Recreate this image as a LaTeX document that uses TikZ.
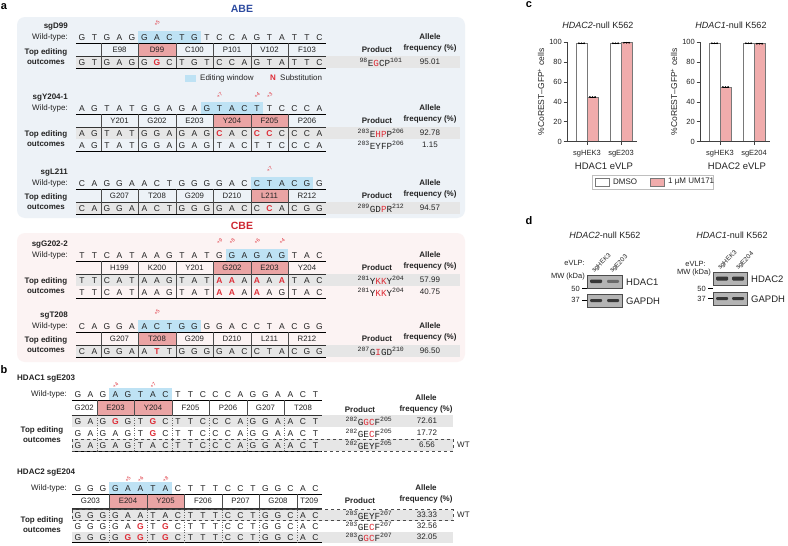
\documentclass[tikz,border=0pt]{standalone}
\usepackage{fontspec}
\setmainfont{Liberation Sans}
\newfontfamily\prodfont{Liberation Mono}
\definecolor{hlblue}{RGB}{190,226,244}
\definecolor{aapink}{RGB}{234,164,164}
\definecolor{edred}{RGB}{222,45,55}
\definecolor{rowgray}{RGB}{230,230,230}
\definecolor{abebg}{RGB}{237,242,247}
\definecolor{cbebg}{RGB}{252,243,243}
\definecolor{abeblue}{RGB}{45,75,160}
\definecolor{cbered}{RGB}{205,40,50}
\definecolor{barpink}{RGB}{240,172,172}
\definecolor{barline}{RGB}{120,120,120}
\definecolor{blotbg}{RGB}{180,180,180}
\definecolor{bandc}{RGB}{55,55,55}
\definecolor{txtc}{RGB}{35,35,35}
\newcommand\Rb[1]{\textcolor{edred}{\textbf{#1}}}
\newcommand\Rn[1]{\textcolor{edred}{#1}}
% sequence letters: x0, y, list
\newcommand\sqrow[3]{\foreach \sq [count=\ii from 0] in {#3}{\node[sqtx] at ({#1+\ii*12.5},{#2}) {\sq};}}
% editing window: x0, y, i1, i2
\newcommand\hlwin[4]{\fill[hlblue] ({#1+(#3-0.5)*12.5},{#2-6.5}) rectangle ({#1+(#4+0.5)*12.5},{#2+6});}
% position marker: x0, y, i, text
\newcommand\emark[4]{\node[emk] at ({#1+#3*12.5},{#2}) {#4};}
% amino-acid label: x0, y, k1, k2, text
\newcommand\aalab[5]{\node[aatx] at ({#1+((#3+#4)/2-0.5)*12.5},{#2}) {#5};}
% amino-acid pink cell: x0, ytop, ybot, k1, k2
\newcommand\aapinkc[5]{\fill[aapink] ({#1+(#4-0.5)*12.5},{#2}) rectangle ({#1+(#5-0.5)*12.5},{#3});}
% frame panel a: y0, nrows, separators
\newcommand\frameA[3]{%
 \draw[tabln] (75.75,{#1+6}) -- (325.75,{#1+6});
 \draw[thinln] (75.75,{#1+19}) -- (325.75,{#1+19});
 \draw[tabln] (75.75,{#1+19+12*#2}) -- (325.75,{#1+19+12*#2});
 \foreach \kk in {#3}{\draw[sepln] ({82+(\kk-0.5)*12.5},{#1+6}) -- ({82+(\kk-0.5)*12.5},{#1+19+12*#2});}%
}
% frame panel b: ytop, yaabot, yrowtop, ybot, separators
\newcommand\frameB[5]{%
 \draw[tabln] (71.75,{#1}) -- (321.75,{#1});
 \draw[thinln] (71.75,{#2}) -- (321.75,{#2});
 \draw[thinln] (71.75,{#3}) -- (321.75,{#3});
 \draw[tabln] (71.75,{#4}) -- (321.75,{#4});
 \foreach \kk in {#5}{\draw[sepln] ({78+(\kk-0.5)*12.5},{#1}) -- ({78+(\kk-0.5)*12.5},{#2});
   \draw[dotln] ({78+(\kk-0.5)*12.5},{#3}) -- ({78+(\kk-0.5)*12.5},{#4});}%
}
\newcommand\bandA[1]{\fill[rowgray] (75.75,{#1}) rectangle (460,{#1+12});}
\newcommand\bandB[2]{\fill[rowgray] (71.75,{#1}) rectangle (453,{#2});}
\newcommand\cval[1]{141.7-#1*0.994}
\newcommand\barchart[8]{%
 \begin{scope}[xshift=#1pt]
 \node[ttl] at (598,25) {#2};
 \node[ylbl, rotate=90] at (541,92) {\%CoREST–GFP\textsuperscript{+} cells};
 \draw[barln, fill=white] (576,141.7) rectangle (587,{\cval{#3}});
 \draw[barln, fill=barpink] (587,141.7) rectangle (598,{\cval{#4}});
 \draw[barln, fill=white] (610,141.7) rectangle (621,{\cval{#5}});
 \draw[barln, fill=barpink] (621,141.7) rectangle (632,{\cval{#6}});
 \foreach \xx/\vv in {581.5/#3,592.5/#4,615.5/#5,626.5/#6}{%
   \draw[line width=0.7pt] ({\xx-3},{\cval{\vv}}) -- ({\xx+3},{\cval{\vv}});
   \foreach \dd in {-2.6,0,2.6}{\fill ({\xx+\dd},{\cval{\vv}}) circle (0.95);}}
 \draw[axln] (567,42.3) -- (567,141.7) -- (637,141.7);
 \foreach \v in {0,20,40,60,80,100}{\draw[axln] (563.5,{\cval{\v}}) -- (567,{\cval{\v}});
   \node[tlbl, anchor=east] at (562,{\cval{\v}}) {\v};}
 \draw[axln] (587,141.7) -- (587,145);
 \draw[axln] (621,141.7) -- (621,145);
 \node[tlbl] at (587,153.5) {sgHEK3};
 \node[tlbl] at (621,153.5) {#7};
 \node[glbl] at (604,166) {#8};
 \end{scope}}
\begin{document}
\begin{tikzpicture}[x=1pt,y=-1pt,
  sqtx/.style={font=\fontsize{8.5}{9}\selectfont, text=txtc, inner sep=0pt, text height=6.1pt, text depth=0pt},
  aatx/.style={font=\fontsize{7.8}{9}\selectfont, text=txtc, inner sep=0pt, text height=5.6pt, text depth=0pt},
  lbl/.style={font=\fontsize{8}{10}\selectfont, text=txtc, inner sep=0pt},
  nmlbl/.style={font=\fontsize{8}{10}\selectfont\bfseries, text=txtc, inner sep=0pt, anchor=east},
  nmlblw/.style={font=\fontsize{8}{10}\selectfont\bfseries, text=txtc, inner sep=0pt, anchor=west},
  wtlbl/.style={font=\fontsize{8}{10}\selectfont, text=txtc, inner sep=0pt, anchor=east},
  toplbl/.style={font=\fontsize{8}{10}\selectfont\bfseries, text=txtc, inner sep=0pt, align=center},
  hdr/.style={font=\fontsize{8}{11}\selectfont\bfseries, text=txtc, inner sep=0pt, align=center},
  prod/.style={font=\fontsize{9.3}{10}\selectfont\prodfont, text=txtc, inner sep=0pt},
  emk/.style={font=\fontsize{5}{6}\selectfont, text=edred, inner sep=0pt, rotate=45},
  plbl/.style={font=\fontsize{11}{12}\selectfont\bfseries, inner sep=0pt},
  tabln/.style={line width=0.7pt, draw=black},
  thinln/.style={line width=0.45pt, draw=black!80},
  sepln/.style={line width=0.45pt, draw=black!70},
  dotln/.style={line width=0.5pt, draw=black!60, dotted},
  axln/.style={line width=0.8pt, draw=black!75},
  barln/.style={line width=0.9pt, draw=barline},
  tlbl/.style={font=\fontsize{7.5}{9}\selectfont, text=txtc, inner sep=0pt},
  ttl/.style={font=\fontsize{9}{10}\selectfont, text=txtc, inner sep=0pt},
  glbl/.style={font=\fontsize{9.5}{10}\selectfont, text=txtc, inner sep=0pt},
  ylbl/.style={font=\fontsize{8.5}{9}\selectfont, text=txtc, inner sep=0pt},
  blotlbl/.style={font=\fontsize{9.5}{10}\selectfont, text=txtc, inner sep=0pt, anchor=west},
  mwlbl/.style={font=\fontsize{7.5}{9}\selectfont, text=txtc, inner sep=0pt, anchor=east},
  lanelbl/.style={font=\fontsize{6.5}{8}\selectfont, text=txtc, inner sep=0pt, rotate=45, anchor=west},
]
\useasboundingbox (0,0) rectangle (788,546);
\fill[white] (0,0) rectangle (788,546);

%================ panel a =================
\node[plbl] (la) at (4,7) {a};
\fill[abebg, rounded corners=8pt] (17,17) rectangle (465,218);
\fill[cbebg, rounded corners=8pt] (17,233) rectangle (465,362);
\node[font=\fontsize{10.5}{12}\selectfont\bfseries, text=abeblue, inner sep=0pt] (abe) at (242,9) {ABE};
\node[font=\fontsize{10.5}{12}\selectfont\bfseries, text=cbered, inner sep=0pt] (cbe) at (242,226) {CBE};

% ---- sgD99 (y0=37)
\bandA{56}
\hlwin{82}{37}{5}{9}
\aapinkc{82}{43}{56}{5}{8}
\frameA{37}{1}{2,5,8,11,14,17}
\emark{82}{23}{6}{+5}
\node[nmlbl] at (68,27) {sgD99};
\node[wtlbl] at (68,37) {Wild-type:};
\sqrow{82}{37}{G,T,G,A,G,G,A,C,T,G,T,C,C,A,G,T,A,T,T,C}
\aalab{82}{49.5}{2}{5}{E98}
\aalab{82}{49.5}{5}{8}{D99}
\aalab{82}{49.5}{8}{11}{C100}
\aalab{82}{49.5}{11}{14}{P101}
\aalab{82}{49.5}{14}{17}{V102}
\aalab{82}{49.5}{17}{20}{F103}
\sqrow{82}{62}{G,T,G,A,G,G,\Rb{G},C,T,G,T,C,C,A,G,T,A,T,T,C}
\node[toplbl] at (46,57) {Top editing\\outcomes};
\node[hdr] at (377,49.5) {Product};
\node[hdr] at (430,43) {Allele\\frequency (\%)};
\node[prod] at (381,62) {\textsuperscript{98}E\Rn{G}CP\textsuperscript{101}};
\node[lbl] at (430,62) {95.01};
% legend
\fill[hlblue] (185,74.5) rectangle (196,81.5);
\node[lbl, anchor=west] at (200,78) {Editing window};
\node[lbl, anchor=west, text=edred, font=\fontsize{8}{10}\selectfont\bfseries] at (270,78) {N};
\node[lbl, anchor=west] at (280,78) {Substitution};

% ---- sgY204-1 (y0=108)
\bandA{127}
\hlwin{82}{108}{10}{14}
\aapinkc{82}{114}{127}{11}{17}
\frameA{108}{2}{2,5,8,11,14,17}
\draw[sepln] (250.75,114) -- (250.75,127);
\emark{82}{95}{11}{+7}
\emark{82}{95}{14}{+4}
\emark{82}{95}{15}{+3}
\node[nmlbl] at (68,98) {sgY204-1};
\node[wtlbl] at (68,108) {Wild-type:};
\sqrow{82}{108}{A,G,T,A,T,G,G,A,G,A,G,T,A,C,T,T,C,C,C,A}
\aalab{82}{120.5}{2}{5}{Y201}
\aalab{82}{120.5}{5}{8}{G202}
\aalab{82}{120.5}{8}{11}{E203}
\aalab{82}{120.5}{11}{14}{Y204}
\aalab{82}{120.5}{14}{17}{F205}
\aalab{82}{120.5}{17}{20}{P206}
\sqrow{82}{133}{A,G,T,A,T,G,G,A,G,A,G,\Rb{C},A,C,\Rb{C},\Rb{C},C,C,C,A}
\sqrow{82}{145}{A,G,T,A,T,G,G,A,G,A,G,T,A,C,T,T,C,C,C,A}
\node[toplbl] at (46,139) {Top editing\\outcomes};
\node[hdr] at (377,120.5) {Product};
\node[hdr] at (430,114) {Allele\\frequency (\%)};
\node[prod] at (381,133) {\textsuperscript{203}E\Rn{H}\Rn{P}P\textsuperscript{206}};
\node[prod] at (381,145) {\textsuperscript{203}EYFP\textsuperscript{206}};
\node[lbl] at (430,133) {92.78};
\node[lbl] at (430,145) {1.15};

% ---- sgL211 (y0=183)
\bandA{202}
\hlwin{82}{183}{14}{18}
\aapinkc{82}{189}{202}{14}{17}
\frameA{183}{1}{2,5,8,11,14,17}
\emark{82}{169}{15}{+7}
\node[nmlbl] at (68,173) {sgL211};
\node[wtlbl] at (68,183) {Wild-type:};
\sqrow{82}{183}{C,A,G,G,A,A,C,T,G,G,G,G,A,C,C,T,A,C,G,G}
\aalab{82}{195.5}{2}{5}{G207}
\aalab{82}{195.5}{5}{8}{T208}
\aalab{82}{195.5}{8}{11}{G209}
\aalab{82}{195.5}{11}{14}{D210}
\aalab{82}{195.5}{14}{17}{L211}
\aalab{82}{195.5}{17}{20}{R212}
\sqrow{82}{208}{C,A,G,G,A,A,C,T,G,G,G,G,A,C,C,\Rb{C},A,C,G,G}
\node[toplbl] at (46,202) {Top editing\\outcomes};
\node[hdr] at (377,195.5) {Product};
\node[hdr] at (430,189) {Allele\\frequency (\%)};
\node[prod] at (381,208) {\textsuperscript{209}GD\Rn{P}R\textsuperscript{212}};
\node[lbl] at (430,208) {94.57};

% ---- sgG202-2 (y0=255)
\bandA{274}
\hlwin{82}{255}{12}{16}
\aapinkc{82}{261}{274}{11}{17}
\frameA{255}{2}{2,5,8,11,14,17}
\draw[sepln] (250.75,261) -- (250.75,274);
\emark{82}{241}{11}{+9}
\emark{82}{241}{12}{+8}
\emark{82}{241}{14}{+6}
\emark{82}{241}{16}{+4}
\node[nmlbl] at (68,245) {sgG202-2};
\node[wtlbl] at (68,255) {Wild-type:};
\sqrow{82}{255}{T,T,C,A,T,A,A,G,T,A,T,G,G,A,G,A,G,T,A,C}
\aalab{82}{267.5}{2}{5}{H199}
\aalab{82}{267.5}{5}{8}{K200}
\aalab{82}{267.5}{8}{11}{Y201}
\aalab{82}{267.5}{11}{14}{G202}
\aalab{82}{267.5}{14}{17}{E203}
\aalab{82}{267.5}{17}{20}{Y204}
\sqrow{82}{280}{T,T,C,A,T,A,A,G,T,A,T,\Rb{A},\Rb{A},A,\Rb{A},A,\Rb{A},T,A,C}
\sqrow{82}{292}{T,T,C,A,T,A,A,G,T,A,T,\Rb{A},\Rb{A},A,\Rb{A},A,G,T,A,C}
\node[toplbl] at (46,286) {Top editing\\outcomes};
\node[hdr] at (377,267.5) {Product};
\node[hdr] at (430,261) {Allele\\frequency (\%)};
\node[prod] at (381,280) {\textsuperscript{201}Y\Rn{K}\Rn{K}Y\textsuperscript{204}};
\node[prod] at (381,292) {\textsuperscript{201}Y\Rn{K}\Rn{K}Y\textsuperscript{204}};
\node[lbl] at (430,280) {57.99};
\node[lbl] at (430,292) {40.75};

% ---- sgT208 (y0=326)
\bandA{345}
\hlwin{82}{326}{5}{9}
\aapinkc{82}{332}{345}{5}{8}
\frameA{326}{1}{2,5,8,11,14,17}
\emark{82}{312}{6}{+5}
\node[nmlbl] at (68,316) {sgT208};
\node[wtlbl] at (68,326) {Wild-type:};
\sqrow{82}{326}{C,A,G,G,A,A,C,T,G,G,G,G,A,C,C,T,A,C,G,G}
\aalab{82}{338.5}{2}{5}{G207}
\aalab{82}{338.5}{5}{8}{T208}
\aalab{82}{338.5}{8}{11}{G209}
\aalab{82}{338.5}{11}{14}{D210}
\aalab{82}{338.5}{14}{17}{L211}
\aalab{82}{338.5}{17}{20}{R212}
\sqrow{82}{351}{C,A,G,G,A,A,\Rb{T},T,G,G,G,G,A,C,C,T,A,C,G,G}
\node[toplbl] at (46,345) {Top editing\\outcomes};
\node[hdr] at (377,338.5) {Product};
\node[hdr] at (430,332) {Allele\\frequency (\%)};
\node[prod] at (381,351) {\textsuperscript{207}G\Rn{I}GD\textsuperscript{210}};
\node[lbl] at (430,351) {96.50};

%================ panel b =================
\node[plbl] (lb) at (4,370) {b};
% ---- HDAC1 sgE203 (y0=394)
\bandB{415}{427}
\bandB{439}{451}
\hlwin{78}{394}{3}{7}
\aapinkc{78}{400}{415}{2}{8}
\frameB{400}{415}{415}{451}{2,5,8,11,14,17}
\draw[sepln] (134.25,400) -- (134.25,415);
\draw[dashed, line width=0.5pt, draw=black!70] (71.75,439) rectangle (453,451);
\node[lbl, anchor=west] at (457,445) {WT};
\emark{78}{385}{3}{+4}
\emark{78}{385}{6}{+7}
\node[nmlblw] at (17,379) {HDAC1 sgE203};
\node[wtlbl] at (67,394) {Wild-type:};
\sqrow{78}{394}{G,A,G,A,G,T,A,C,T,T,C,C,C,A,G,G,A,A,C,T}
\aalab{78}{407.5}{0}{2}{G202}
\aalab{78}{407.5}{2}{5}{E203}
\aalab{78}{407.5}{5}{8}{Y204}
\aalab{78}{407.5}{8}{11}{F205}
\aalab{78}{407.5}{11}{14}{P206}
\aalab{78}{407.5}{14}{17}{G207}
\aalab{78}{407.5}{17}{20}{T208}
\sqrow{78}{421}{G,A,G,\Rb{G},G,T,\Rb{G},C,T,T,C,C,C,A,G,G,A,A,C,T}
\sqrow{78}{433}{G,A,G,A,G,T,\Rb{G},C,T,T,C,C,C,A,G,G,A,A,C,T}
\sqrow{78}{445}{G,A,G,A,G,T,A,C,T,T,C,C,C,A,G,G,A,A,C,T}
\node[toplbl] at (42,435) {Top editing\\outcomes};
\node[hdr] at (360,409.5) {Product};
\node[hdr] at (426,404) {Allele\\frequency (\%)};
\node[prod] at (369,421.5) {\textsuperscript{202}G\Rn{G}\Rn{C}F\textsuperscript{205}};
\node[prod] at (369,433.5) {\textsuperscript{202}GE\Rn{C}F\textsuperscript{205}};
\node[prod] at (369,445.5) {\textsuperscript{202}GEYF\textsuperscript{205}};
\node[lbl] at (427,421) {72.61};
\node[lbl] at (427,433) {17.72};
\node[lbl] at (427,445) {6.56};

% ---- HDAC2 sgE204 (y0=488)
\bandB{509.5}{520.5}
\bandB{531.5}{542.5}
\hlwin{78}{488}{3}{7}
\aapinkc{78}{494}{508}{3}{9}
\frameB{494}{508}{509.5}{542.5}{3,6,9,12,15,18}
\draw[sepln] (146.75,494) -- (146.75,508);
\draw[dashed, line width=0.5pt, draw=black!70] (71.75,509.5) rectangle (453,520.5);
\node[lbl, anchor=west] at (457,515) {WT};
\emark{78}{479}{4}{+5}
\emark{78}{479}{5}{+6}
\emark{78}{479}{7}{+8}
\node[nmlblw] at (17,473) {HDAC2 sgE204};
\node[wtlbl] at (67,488) {Wild-type:};
\sqrow{78}{488}{G,G,G,G,A,A,T,A,C,T,T,T,C,C,T,G,G,C,A,C}
\aalab{78}{501}{0}{3}{G203}
\aalab{78}{501}{3}{6}{E204}
\aalab{78}{501}{6}{9}{Y205}
\aalab{78}{501}{9}{12}{F206}
\aalab{78}{501}{12}{15}{P207}
\aalab{78}{501}{15}{18}{G208}
\aalab{78}{501}{18}{20}{T209}
\sqrow{78}{515}{G,G,G,G,A,A,T,A,C,T,T,T,C,C,T,G,G,C,A,C}
\sqrow{78}{526}{G,G,G,G,A,\Rb{G},T,\Rb{G},C,T,T,T,C,C,T,G,G,C,A,C}
\sqrow{78}{537}{G,G,G,G,\Rb{G},\Rb{G},T,\Rb{G},C,T,T,T,C,C,T,G,G,C,A,C}
\node[toplbl] at (42,525) {Top editing\\outcomes};
\node[hdr] at (360,501) {Product};
\node[hdr] at (426,494) {Allele\\frequency (\%)};
\node[prod] at (369,515.5) {\textsuperscript{203}GEYF\textsuperscript{207}};
\node[prod] at (369,526.5) {\textsuperscript{203}GE\Rn{C}F\textsuperscript{207}};
\node[prod] at (369,537.5) {\textsuperscript{203}G\Rn{G}\Rn{C}F\textsuperscript{207}};
\node[lbl] at (427,515) {33.33};
\node[lbl] at (427,526) {32.56};
\node[lbl] at (427,537) {32.05};

%================ panel c =================
\node[plbl] (lc) at (529,5) {c};
\barchart{0}{\textit{HDAC2}-null K562}{99}{45}{99}{99.5}{sgE203}{HDAC1 eVLP}
\barchart{133}{\textit{HDAC1}-null K562}{99}{55}{99}{98.5}{sgE204}{HDAC2 eVLP}
\draw[line width=0.4pt, draw=black!25] (592,175) rectangle (713,189);
\draw[barln, fill=white] (595.5,178) rectangle (609.5,186);
\node[tlbl, anchor=west, font=\fontsize{8}{9}\selectfont] at (613,182) {DMSO};
\draw[barln, fill=barpink] (650,178) rectangle (664,186);
\node[tlbl, anchor=west, font=\fontsize{8}{9}\selectfont] at (668,182) {1 µM UM171};

%================ panel d =================
\node[plbl] (ld) at (529,221) {d};
% blot 1
\node[ttl] at (605,235) {\textit{HDAC2}-null K562};
\node[lanelbl] at (593,272) {sgHEK3};
\node[lanelbl] at (611,272) {sgE203};
\node[mwlbl] at (585,263) {eVLP:};
\node[mwlbl] at (585,277) {MW (kDa)};
\fill[blotbg, draw=black!70, line width=0.5pt] (587,275) rectangle (622,288.5);
\fill[bandc, rounded corners=1pt] (590,279.5) rectangle (602,283);
\fill[bandc!75, rounded corners=1pt] (607,279.8) rectangle (619,282.8);
\node[mwlbl] at (580,288.5) {50};
\draw[line width=0.5pt] (582,288.5) -- (587,288.5);
\node[blotlbl] at (626,282) {HDAC1};
\fill[blotbg, draw=black!70, line width=0.5pt] (587,294) rectangle (622,307);
\fill[bandc, rounded corners=1pt] (590,299) rectangle (602,302);
\fill[bandc, rounded corners=1pt] (607,299) rectangle (619,302);
\node[mwlbl] at (580,300) {37};
\draw[line width=0.5pt] (582,300) -- (587,300);
\node[blotlbl] at (626,301) {GAPDH};
% blot 2
\node[ttl] at (732,235) {\textit{HDAC1}-null K562};
\node[lanelbl] at (719,269) {sgHEK3};
\node[lanelbl] at (737,269) {sgE204};
\node[mwlbl] at (706,264) {eVLP:};
\node[mwlbl] at (711,273) {MW (kDa)};
\fill[blotbg, draw=black!70, line width=0.5pt] (713,272) rectangle (747,285);
\fill[bandc, rounded corners=1pt] (716,276.5) rectangle (728,280.5);
\fill[bandc, rounded corners=1pt] (732,276.5) rectangle (744,280.5);
\node[mwlbl] at (706,288.5) {50};
\draw[line width=0.5pt] (708,288.5) -- (713,288.5);
\node[blotlbl] at (751,279) {HDAC2};
\fill[blotbg, draw=black!70, line width=0.5pt] (713,292) rectangle (747,305);
\fill[bandc, rounded corners=1pt] (716,297) rectangle (728,300);
\fill[bandc, rounded corners=1pt] (732,297) rectangle (744,300);
\node[mwlbl] at (706,298.5) {37};
\draw[line width=0.5pt] (708,298.5) -- (713,298.5);
\node[blotlbl] at (751,299) {GAPDH};
\end{tikzpicture}
\end{document}
